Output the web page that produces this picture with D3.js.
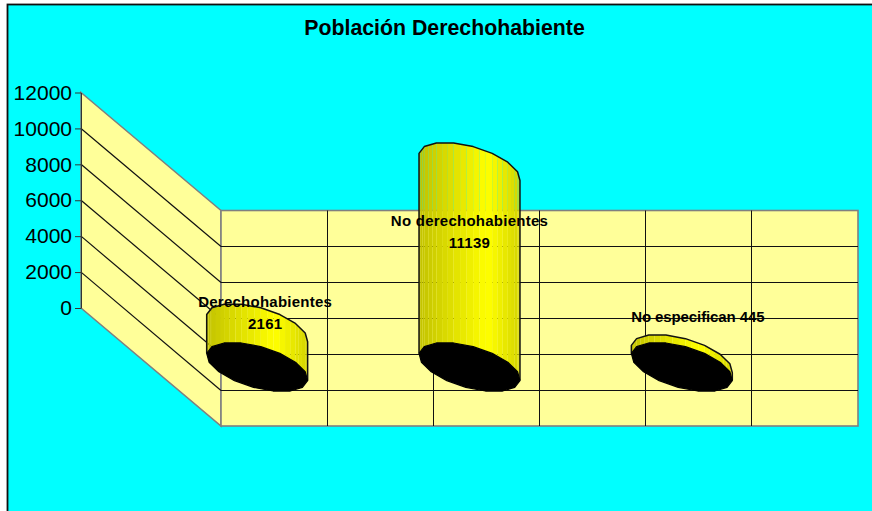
<!DOCTYPE html>
<html lang="es">
<head>
<meta charset="UTF-8">
<title>Población Derechohabiente</title>
<script src="https://d3js.org/d3.v7.min.js"></script>
<style>
  html, body { margin: 0; padding: 0; background: #fff; }
  svg { display: block; }
  .axis text { font: 21px "Liberation Sans", Arial, sans-serif; fill: #000; }
  .title { font: bold 21.3px "Liberation Sans", Arial, sans-serif; fill: #000; text-anchor: middle; }
  .label { font: bold 15px "Liberation Sans", Arial, sans-serif; fill: #000; text-anchor: middle; letter-spacing: 0.25px; }
</style>
</head>
<body>
<svg id="chart"></svg>
<script>
// Data
var categories = ["Derechohabientes", "No derechohabientes", "No especifican"];
var values = [2161, 11139, 445];
var yTicks = [0, 2000, 4000, 6000, 8000, 10000, 12000];
var xDivisions = [0, 1, 2, 3, 4, 5, 6];

var svgWidth = 872, svgHeight = 511;

// Back wall rectangle and how far the floor runs towards the viewer
var wallLeft = 221, wallRight = 858, wallTop = 210.5, wallBottom = 426;
var depthX = 140, depthY = 118;

var svg = d3.select("#chart").attr("width", svgWidth).attr("height", svgHeight);

// y is measured on the front left edge, the wall is the same scale moved back
var y = d3.scaleLinear().domain([0, 12000]).range([wallBottom - depthY, wallTop - depthY]);
var x = d3.scaleBand().domain(categories).range([wallLeft, wallRight]);
var xDiv = d3.scaleLinear().domain([0, 6]).range([wallLeft, wallRight]);

// Chart area
svg.append("rect")
    .attr("x", 7.5).attr("y", 4.5)
    .attr("width", svgWidth).attr("height", svgHeight)
    .attr("fill", "#00ffff")
    .attr("stroke", "#111")
    .attr("stroke-width", 1.8);

svg.append("text")
    .attr("class", "title")
    .attr("x", 444.5).attr("y", 35)
    .text("Población Derechohabiente");

// Walls
var leftWall = [[wallLeft - depthX, y(12000)], [wallLeft, wallTop], [wallLeft, wallBottom], [wallLeft - depthX, y(0)]];
svg.append("polygon")
    .attr("points", leftWall.join(" "))
    .attr("fill", "#ffff99")
    .attr("stroke", "#808080")
    .attr("stroke-width", 1.6);

svg.append("rect")
    .attr("x", wallLeft).attr("y", wallTop)
    .attr("width", wallRight - wallLeft).attr("height", wallBottom - wallTop)
    .attr("fill", "#ffff99")
    .attr("stroke", "#808080")
    .attr("stroke-width", 1.6);

// Gridlines
var grid = svg.append("g").attr("stroke", "#111");
yTicks.slice(1, -1).forEach(function(t) {
    var wallY = Math.floor(y(t) + depthY) + 0.5;
    grid.append("line")
        .attr("x1", wallLeft - depthX).attr("y1", y(t))
        .attr("x2", wallLeft).attr("y2", wallY)
        .attr("stroke-width", 1.2);
    grid.append("line")
        .attr("x1", wallLeft).attr("y1", wallY)
        .attr("x2", wallRight).attr("y2", wallY);
});
xDivisions.slice(1, -1).forEach(function(d) {
    grid.append("line")
        .attr("x1", Math.floor(xDiv(d)) + 0.5).attr("y1", wallTop)
        .attr("x2", Math.floor(xDiv(d)) + 0.5).attr("y2", wallBottom);
});

// Value axis
var axis = svg.append("g")
    .attr("class", "axis")
    .attr("transform", "translate(" + (wallLeft - depthX) + ",0)")
    .call(d3.axisLeft(y).tickValues(yTicks).tickFormat(d3.format("d")).tickSize(6).tickPadding(3).tickSizeOuter(0));
axis.selectAll("line, path").attr("stroke", "#333");

// Cylinders stand half way along the floor, rim is a 16 sided polygon
var ellipseA = 44, ellipseB = 25, ellipseC = 24.5;
var rimSides = 16;
var stripsPerSide = 3;
var firstVertex = -Math.PI * 146.25 / 180;

function rim(cx, cy, t) {
    return [cx + ellipseA * Math.cos(t) + ellipseB * Math.sin(t), cy + ellipseC * Math.sin(t)];
}

// bright band sits right of the middle of the cylinder
var shade = d3.scaleLinear().domain([0, 0.68, 1]).range(["#c2c200", "#ffff00", "#d4d400"]);
var line = d3.line();

categories.forEach(function(c, i) {
    var cx = x(c) + x.bandwidth() / 2 - depthX / 2;
    var cy = y(0) + depthY / 2;
    var rise = y(0) - y(values[i]);

    var g = svg.append("g");
    // back half of the rim, left to right
    var arc = d3.range(rimSides / 2 + 1).map(function(k) {
        return rim(cx, cy, firstVertex + 2 * Math.PI * k / rimSides);
    });

    // side of the cylinder as vertical strips
    d3.pairs(arc).forEach(function(p) {
        var along = function(f) {
            return [p[0][0] + (p[1][0] - p[0][0]) * f, p[0][1] + (p[1][1] - p[0][1]) * f];
        };
        d3.range(stripsPerSide).forEach(function(s) {
            var a = along(s / stripsPerSide), b = along((s + 1) / stripsPerSide);
            var mid = ((a[0] + b[0]) / 2 - arc[0][0]) / (arc[arc.length - 1][0] - arc[0][0]);
            g.append("path")
                .attr("d", line([[a[0], a[1] - rise], [b[0], b[1] - rise], [b[0], b[1]], [a[0], a[1]]]) + "Z")
                .attr("fill", shade(mid));
        });
    });

    // outline
    var top = arc.map(function(r) { return [r[0], r[1] - rise]; });
    var outline = [arc[0]].concat(top, [arc[arc.length - 1]]);
    g.append("path")
        .attr("d", line(outline))
        .attr("fill", "none")
        .attr("stroke", "#111")
        .attr("stroke-width", 1.5)
        .attr("stroke-linejoin", "round");

    // black base
    var base = d3.range(rimSides).map(function(k) {
        return rim(cx, cy, firstVertex + 2 * Math.PI * k / rimSides);
    });
    g.append("path")
        .attr("d", line(base) + "Z")
        .attr("fill", "#000")
        .attr("stroke", "#000")
        .attr("stroke-width", 1.2)
        .attr("stroke-linejoin", "round");
});

// Labels were moved by hand in the original so each one has its own spot
var labelOffsetX = [8, 0, 16];
var labelY = [307, 226, 322];
var labelLineGap = 21.5;
var labelWrapped = [true, true, false];

categories.forEach(function(c, i) {
    var cx = x(c) + x.bandwidth() / 2 - depthX / 2 + labelOffsetX[i];
    if (labelWrapped[i]) {
        svg.append("text").attr("class", "label").attr("x", cx).attr("y", labelY[i]).text(c);
        svg.append("text").attr("class", "label").attr("x", cx).attr("y", labelY[i] + labelLineGap).text(values[i]);
    } else {
        svg.append("text").attr("class", "label").attr("x", cx).attr("y", labelY[i])
            .style("letter-spacing", "-0.1px")
            .text(c + " " + values[i]);
    }
});
</script>
</body>
</html>
